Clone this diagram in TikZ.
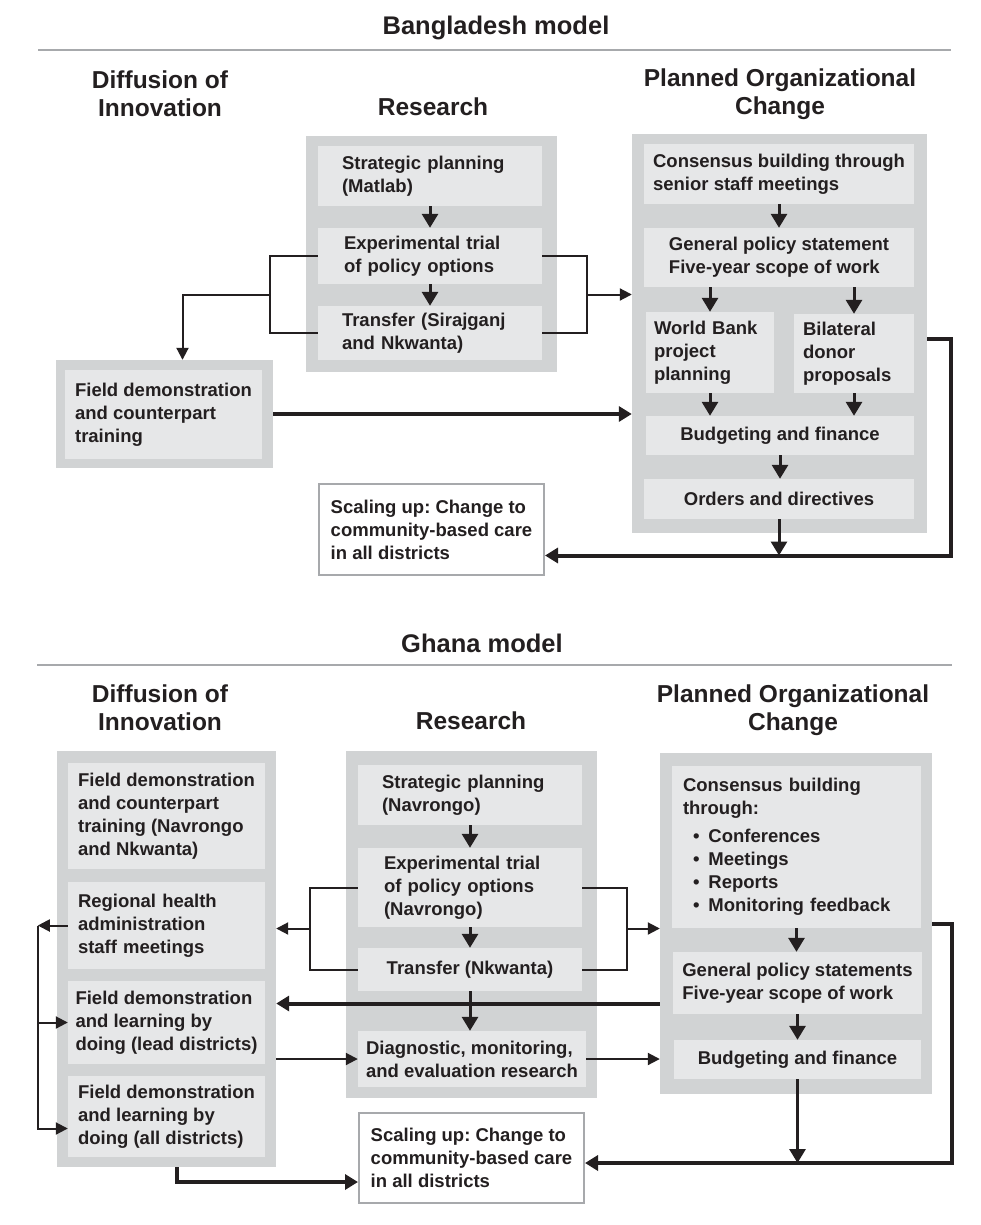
\documentclass[tikz,border=0pt]{standalone}
\usepackage{fontspec}
\setmainfont{Liberation Sans}
\usepackage{tikz}
\usetikzlibrary{arrows.meta,fit,calc}
\definecolor{ink}{HTML}{231F20}
\definecolor{panelgray}{HTML}{D1D3D4}
\definecolor{stagegray}{HTML}{E6E7E8}
\definecolor{rulegray}{HTML}{A7A9AC}
\newcommand{\txtBody}{\fontsize{18.5}{23}\selectfont\bfseries\frenchspacing}
\newcommand{\txtHead}{\fontsize{24.5}{28}\selectfont\bfseries}
\newcommand{\txtTitle}{\fontsize{25.5}{30}\selectfont\bfseries}
\newcommand{\dotItem}{\hspace*{10pt}\textbullet\hspace{9pt}}
\newcommand{\grayPanel}[5]{\node[panelbox, fit={(#2,#3) (#4,#5)}] (#1) {};}
\newcommand{\stageBox}[7][]{\node[stagebox, minimum width={#5-#3}, minimum height={#6-#4}, #1] (#2) at ({(#3+#5)/2},{(#4+#6)/2}) {#7};}
\tikzset{
  panelbox/.style={fill=panelgray, draw=none, inner sep=0pt},
  stagebox/.style={fill=stagegray, draw=none, inner sep=0pt, align=left, text=ink, font=\txtBody},
  padded/.style={text width={#1}, inner xsep=24pt},
  scalebox/.style={stagebox, fill=white, draw=rulegray, line width=2pt},
  heading/.style={text=ink, font=\txtHead, align=center},
  modeltitle/.style={text=ink, font=\txtTitle},
  titlerule/.style={draw=rulegray, line width=2pt},
  link/.style={draw=ink, line width=2pt},
  stem/.style={draw=ink, line width=3pt, >={Triangle[width=16pt,length=14pt]}},
  heavy/.style={draw=ink, line width=4pt, >={Triangle[width=15pt,length=13pt]}}
}
\begin{document}
\begin{tikzpicture}[x=1pt, y=-1pt, >={Triangle[width=12pt,length=12pt]}]
        \useasboundingbox (0,0) rectangle (980,1225);
        % Bangladesh headings
        \node[modeltitle] (bTitle) at (496,28) {Bangladesh model};
        \draw[titlerule] (38,50) -- (951,50);
        \node[heading] (bHeadDiff) at (160,94) {Diffusion of\\Innovation};
        \node[heading] (bHeadRes) at (433,107) {Research};
        \node[heading] (bHeadPoc) at (780,94) {Planned Organizational\\Change};
        % Bangladesh research
        \grayPanel{bResPanel}{306}{136}{557}{372}
        \stageBox[padded=176pt]{bStrat}{318}{146}{542}{206}{Strategic planning\\(Matlab)}
        \stageBox[padded=172pt, inner xsep=26pt]{bExp}{318}{228}{542}{284}{Experimental trial\\of policy options}
        \stageBox[padded=176pt]{bTrans}{318}{306}{542}{360}{Transfer (Sirajganj\\and Nkwanta)}
        % Bangladesh planned change
        \grayPanel{bPocPanel}{632}{134}{927}{533}
        \stageBox{bCons}{644}{144}{914}{204}{Consensus building through\\senior staff meetings}
        \stageBox{bPolicy}{644}{228}{914}{287}{General policy statement\\Five-year scope of work}
        \stageBox[text width=112pt, inner xsep=8pt]{bWorldBank}{646}{312}{774}{393}{World Bank\\project\\planning}
        \stageBox[text width=102pt, inner xsep=9pt]{bDonor}{794}{314}{914}{393}{Bilateral\\donor\\proposals}
        \stageBox{bBudget}{646}{416}{914}{455}{Budgeting and finance}
        \stageBox{bOrders}{644}{479}{914}{519}{Orders and directives}
        % Bangladesh diffusion
        \grayPanel{bFieldPanel}{56}{360}{273}{468}
        \stageBox{bField}{65}{370}{262}{459}{Field demonstration\\and counterpart\\training}
        \stageBox[scalebox]{bScale}{319}{484}{544}{575}{Scaling up: Change to\\community-based care\\in all districts}
        % Bangladesh links
        \draw[link] (bExp.west) -- ++(-48,0) coordinate (bLeft) |- (bTrans.west);
        \coordinate (bLeftMid) at ($(bLeft)!0.5!(bLeft |- bTrans.west)$);
        \draw[link,->] (bLeftMid) -| ([xshift=18pt]bFieldPanel.north);
        \draw[link] (bExp.east) -- ++(45,0) coordinate (bRight) |- (bTrans.east);
        \coordinate (bRightMid) at ($(bRight)!0.5!(bRight |- bTrans.east)$);
        \draw[link,->] (bRightMid) -- (bRightMid -| bPocPanel.west);
        \draw[heavy,->] (bFieldPanel.east) -- (bFieldPanel.east -| bPocPanel.west);
        \draw[stem,->] (bStrat) -- (bExp);
        \draw[stem,->] (bExp) -- (bTrans);
        \draw[stem,->] (bCons.south) -- (bCons.south |- bPolicy.north);
        \draw[stem,->] (bWorldBank.north |- bPolicy.south) -- (bWorldBank.north);
        \draw[stem,->] (bDonor.north |- bPolicy.south) -- (bDonor.north);
        \draw[stem,->] (bWorldBank) -- (bWorldBank |- bBudget.north);
        \draw[stem,->] (bDonor) -- (bDonor |- bBudget.north);
        \draw[stem,->] (bBudget.south) -- (bBudget.south |- bOrders.north);
        \coordinate (bScaleIn) at ([yshift=-26pt]bScale.east);
        \draw[heavy,->] ([yshift=-5pt]bPocPanel.east) -- ++(24,0) |- (bScaleIn);
        \draw[stem,->] (bOrders) -- (bOrders |- bScaleIn);
        % Ghana headings
        \node[modeltitle] (gTitle) at (482,643) {Ghana model};
        \draw[titlerule] (37,665) -- (952,665);
        \node[heading] (gHeadDiff) at (160,708) {Diffusion of\\Innovation};
        \node[heading] (gHeadRes) at (471,721) {Research};
        \node[heading] (gHeadPoc) at (793,710) {Planned Organizational\\Change};
        % Ghana diffusion
        \grayPanel{gDiffPanel}{57}{751}{276}{1167}
        \stageBox{gFieldTrain}{68}{763}{265}{869}{Field demonstration\\and counterpart\\training (Navrongo\\and Nkwanta)}
        \stageBox[text width=177pt, inner xsep=10pt]{gRegional}{68}{882}{265}{969}{Regional health\\administration\\staff meetings}
        \stageBox{gLead}{68}{981}{265}{1064}{Field demonstration\\and learning by\\doing (lead districts)}
        \stageBox{gAll}{68}{1076}{265}{1157}{Field demonstration\\and learning by\\doing (all districts)}
        % Ghana research
        \grayPanel{gResPanel}{346}{751}{597}{1098}
        \stageBox[padded=176pt]{gStrat}{358}{765}{582}{825}{Strategic planning\\(Navrongo)}
        \stageBox[padded=172pt, inner xsep=26pt]{gExp}{358}{848}{582}{927}{Experimental trial\\of policy options\\(Navrongo)}
        \stageBox{gTrans}{358}{948}{582}{991}{Transfer (Nkwanta)}
        \stageBox{gDiag}{358}{1031}{586}{1087}{Diagnostic, monitoring,\\and evaluation research}
        % Ghana planned change
        \grayPanel{gPocPanel}{660}{753}{932}{1094}
        \stageBox[text width=227pt, inner xsep=11pt]{gCons}{672}{766}{921}{928}{Consensus building\\through:\\[5pt]\dotItem Conferences\\\dotItem Meetings\\\dotItem Reports\\\dotItem Monitoring feedback}
        \stageBox{gPolicy}{673}{952}{922}{1014}{General policy statements\\Five-year scope of work}
        \stageBox{gBudget}{674}{1040}{921}{1079}{Budgeting and finance}
        \stageBox[scalebox]{gScale}{359}{1113}{584}{1203}{Scaling up: Change to\\community-based care\\in all districts}
        % Ghana links
        \draw[link] (gExp.west) -- ++(-48,0) coordinate (gLeft) |- (gTrans.west);
        \coordinate (gLeftMid) at ($(gLeft)!0.5!(gLeft |- gTrans.west)$);
        \draw[link,->] (gLeftMid) -- (gLeftMid -| gDiffPanel.east);
        \draw[link] (gExp.east) -- ++(45,0) coordinate (gRight) |- (gTrans.east);
        \coordinate (gRightMid) at ($(gRight)!0.5!(gRight |- gTrans.east)$);
        \draw[link,->] (gRightMid) -- (gRightMid -| gPocPanel.west);
        \draw[stem,->] (gStrat) -- (gExp);
        \draw[stem,->] (gExp) -- (gTrans);
        \path (gLead.east) ++(0,-19) coordinate (gBack);
        \draw[heavy,->] (gBack -| gPocPanel.west) -- (gBack -| gDiffPanel.east);
        \draw[stem,->] (gTrans.south) -- (gTrans.south |- gDiag.north);
        \draw[link,->] (gDiag.west -| gDiffPanel.east) -- (gDiag.west);
        \draw[link,->] (gDiag.east) -- (gDiag.east -| gPocPanel.west);
        \draw[stem,->] (gCons.south) -- (gCons.south |- gPolicy.north);
        \draw[stem,->] (gPolicy.south) -- (gPolicy.south |- gBudget.north);
        \coordinate (gScaleIn) at ([yshift=-5pt]gScale.east);
        \draw[heavy,->] (gPocPanel.east) -- ++(20,0) |- (gScaleIn);
        \draw[stem,->] (gBudget) -- (gBudget |- gScaleIn);
        \draw[link,->] (gRegional.west) -- ++(-30,0) coordinate (gBus);
        \draw[link,->] (gBus) |- ([yshift=-12pt]gAll.west);
        \draw[link,->] (gBus |- gLead.west) -- (gLead.west);
        \draw[heavy,->] ([xshift=10pt]gDiffPanel.south) |- ([yshift=-24pt]gScale.west);
\end{tikzpicture}
\end{document}
